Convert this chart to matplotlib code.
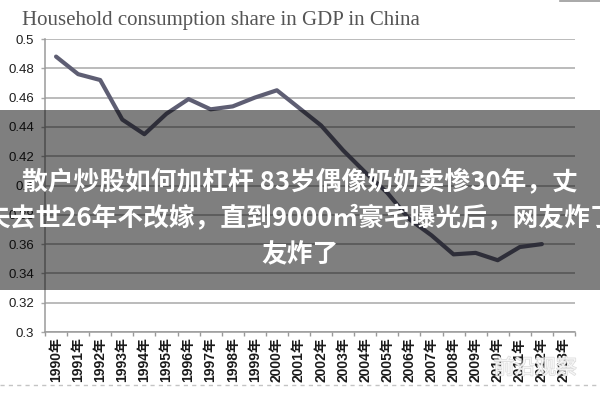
import matplotlib
matplotlib.use('Agg')
import matplotlib.pyplot as plt
import matplotlib.patheffects as pe
from matplotlib.patches import Rectangle
from matplotlib.lines import Line2D

# ---- data ----
years = ['1990年', '1991年', '1992年', '1993年', '1994年', '1995年', '1996年', '1997年',
         '1998年', '1999年', '2000年', '2001年', '2002年', '2003年', '2004年', '2005年',
         '2006年', '2007年', '2008年', '2009年', '2010年', '2011年', '2012年', '2013年']
share = [0.488, 0.476, 0.472, 0.445, 0.435, 0.449, 0.459, 0.452, 0.454, 0.460, 0.465,
         0.453, 0.441, 0.424, 0.409, 0.395, 0.377, 0.366, 0.353, 0.354, 0.349, 0.358, 0.360]
yticks = [0.30, 0.32, 0.34, 0.36, 0.38, 0.40, 0.42, 0.44, 0.46, 0.48, 0.50]
ytick_labels = ['0.3', '0.32', '0.34', '0.36', '0.38', '0.4', '0.42', '0.44', '0.46', '0.48', '0.5']
title = 'Household consumption share in GDP in China'
overlay_lines = ['散户炒股如何加杠杆 83岁偶像奶奶卖惨30年，丈',
                 '夫去世26年不改嫁，直到9000㎡豪宅曝光后，网友炸了',
                 '友炸了']
watermark = '前沿观察'

cjk = ['Noto Sans CJK SC', 'DejaVu Sans']

fig = plt.figure(figsize=(6, 4), dpi=100)
fig.patch.set_facecolor('white')

ax = fig.add_axes([45 / 600, 1 - 332 / 400, 530 / 600, 293 / 400])
x = list(range(len(share)))
ax.plot(x, share, color='#5e5e73', lw=3, solid_joinstyle='round',
        solid_capstyle='round', zorder=3)

ax.set_xlim(-0.5, len(years) - 0.5)
ax.set_ylim(0.3, 0.5)
ax.set_yticks(yticks)
ax.set_yticklabels(ytick_labels, family='Liberation Sans', fontsize=9.5, color='#1e1e1e')
ax.yaxis.grid(True, color='#a8a8a8', lw=1.1)
ax.set_axisbelow(True)

ax.set_xticks(x + [len(share)])
ax.set_xticklabels(years, rotation=90, family=['Liberation Sans', 'Noto Sans CJK SC'],
                   fontsize=10, fontweight='bold', color='#1a1a1a')
ax.set_xticks([i - 0.5 for i in range(len(years) + 1)], minor=True)
ax.tick_params(axis='x', which='major', length=0, pad=4)
ax.tick_params(axis='x', which='minor', length=3, color='#999999', width=1)
ax.tick_params(axis='y', length=3, color='#a8a8a8', width=1, pad=5)

for s in ['top', 'right']:
    ax.spines[s].set_visible(False)
for s in ['left', 'bottom']:
    ax.spines[s].set_color('#9a9a9a')
    ax.spines[s].set_linewidth(1.1)

# title
fig.text(22 / 600, 1 - 25 / 400, title, ha='left', va='baseline',
         family='Liberation Serif', fontsize=15, color='#555555')

# dashed line at bottom & top-right remnant
fig.add_artist(Line2D([0, 1], [1 - 385 / 400, 1 - 385 / 400], transform=fig.transFigure,
                      color='#c4c4c4', lw=1, ls=(0, (3, 3)), zorder=5))
fig.add_artist(Line2D([560 / 600, 1], [0.998, 0.998], transform=fig.transFigure,
                      color='#9a9a9a', lw=1.2, zorder=5))

# watermark
fig.text(577 / 600, 1 - 368 / 400, watermark, ha='right', va='center', family=cjk,
         fontsize=15, color='white', alpha=0.75, zorder=6,
         path_effects=[pe.withStroke(linewidth=1.0, foreground='#cfcfcf')])

# overlay band
fig.add_artist(Rectangle((0, 1 - 290 / 400), 1, 180 / 400, transform=fig.transFigure,
                         facecolor='black', edgecolor='none', alpha=0.5, zorder=10))
for yy, line in zip([183, 219, 255], overlay_lines):
    fig.text(0.5, 1 - yy / 400, line, ha='center', va='center', color='white',
             fontsize=18.5, fontweight='bold', family=cjk, zorder=11)

fig.savefig('out.png', dpi=100)
